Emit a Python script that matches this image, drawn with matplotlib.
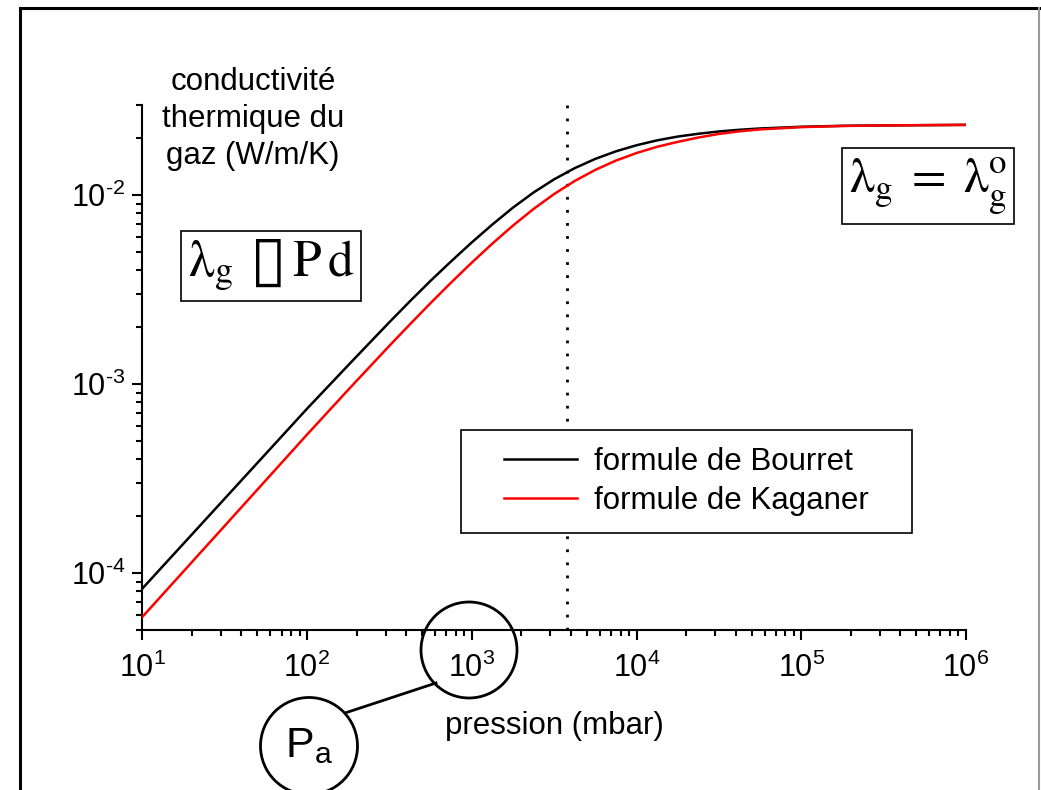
"""Conductivité thermique du gaz vs pression: formules de Bourret et Kaganer."""

import math

import matplotlib
matplotlib.use("Agg")
import matplotlib.pyplot as plt
from matplotlib.patches import Circle, Rectangle
from matplotlib.ticker import FuncFormatter, LogLocator, NullFormatter

plt.rcParams["font.family"] = ["Liberation Sans", "DejaVu Sans"]
plt.rcParams["mathtext.fontset"] = "custom"
plt.rcParams["mathtext.rm"] = "Liberation Sans"
plt.rcParams["mathtext.it"] = "Liberation Sans:italic"
plt.rcParams["mathtext.bf"] = "Liberation Sans:bold"

# pression (mbar)
pression = [10, 31.62, 100, 177.8, 316.2, 421.7, 562.3, 749.9, 1000, 1334,
            1778, 2371, 3162, 4217, 5623, 7499, 10000, 13340, 17780, 23710,
            31620, 42170, 56230, 1e5, 177800, 316200, 1e6]
# conductivité (W/m/K)
bourret = [8.279e-5, 2.477e-4, 7.413e-4, 1.259e-3, 2.128e-3, 2.748e-3,
           3.524e-3, 4.467e-3, 5.623e-3, 6.998e-3, 8.590e-3, 1.033e-2,
           1.213e-2, 1.390e-2, 1.556e-2, 1.706e-2, 1.837e-2, 1.950e-2,
           2.042e-2, 2.113e-2, 2.173e-2, 2.218e-2, 2.254e-2, 2.301e-2,
           2.328e-2, 2.339e-2, 2.355e-2]
kaganer = [5.861e-5, 1.778e-4, 5.408e-4, 9.333e-4, 1.596e-3, 2.075e-3,
           2.685e-3, 3.451e-3, 4.395e-3, 5.546e-3, 6.902e-3, 8.453e-3,
           1.014e-2, 1.189e-2, 1.361e-2, 1.524e-2, 1.671e-2, 1.803e-2,
           1.914e-2, 2.018e-2, 2.109e-2, 2.178e-2, 2.228e-2, 2.291e-2,
           2.323e-2, 2.339e-2, 2.355e-2]
p_limite = 3800


def fmt_pow10(v, pos):
    e = int(round(math.log10(v)))
    if e < 0:
        return r"$10^{\text{-}%d}$" % (-e)
    return r"$10^{%d}$" % e


W, H = 1041, 790
fig = plt.figure(figsize=(W / 100, H / 100), dpi=100)
ax = fig.add_axes([142.3 / W, 1 - 630 / H, (966 - 142.3) / W, 525 / H])

l1, = ax.plot(pression, bourret, color="black", lw=1.8, zorder=3)
l2, = ax.plot(pression, kaganer, color="#ff0000", lw=1.8, zorder=3)
ax.axvline(p_limite, color="black", lw=2, ls=(0, (1, 3.7)), zorder=2)

ax.set_xscale("log")
ax.set_yscale("log")
ax.set_xlim(10, 1e6)
ax.set_ylim(5e-5, 3e-2)
ax.xaxis.set_minor_locator(LogLocator(base=10, subs=range(2, 10)))
ax.yaxis.set_minor_locator(LogLocator(base=10, subs=range(2, 10)))
ax.xaxis.set_minor_formatter(NullFormatter())
ax.yaxis.set_minor_formatter(NullFormatter())
ax.set_yticks([1e-4, 1e-3, 1e-2])
ax.xaxis.set_major_formatter(FuncFormatter(fmt_pow10))
ax.yaxis.set_major_formatter(FuncFormatter(fmt_pow10))

for s in ["top", "right"]:
    ax.spines[s].set_visible(False)
for s in ["left", "bottom"]:
    ax.spines[s].set_linewidth(1.5)
ax.tick_params(which="major", direction="out", length=7, width=1.5, labelsize=22)
ax.tick_params(which="minor", direction="out", length=4, width=1.5)
ax.tick_params(axis="x", which="major", pad=9)
ax.tick_params(axis="y", which="major", pad=5)

ax.set_xlabel("pression (mbar)", fontsize=22.5, labelpad=20)

# overlay in pixel coords for annotations
ov = fig.add_axes([0, 0, 1, 1], zorder=10)
ov.set_xlim(0, W)
ov.set_ylim(H, 0)
ov.axis("off")

ov.text(253, 119, "conductivité\nthermique du\ngaz (W/m/K)", fontsize=22.5,
        ha="center", va="center", multialignment="center", linespacing=1.3)

# legend box
ax.add_patch(Rectangle((461, 430), 451, 103, transform=ov.transData,
                       facecolor="white", edgecolor="black", lw=1.2,
                       clip_on=False, zorder=4))
leg = ax.legend([l1, l2], ["formule de Bourret", "formule de Kaganer"],
                loc="center", bbox_to_anchor=((686.5 - 142.3) / 823.7, (630 - 481.5) / 525),
                frameon=False, fontsize=22.5, handlelength=2.35, handletextpad=0.55,
                labelspacing=0.28, borderpad=0)
leg.set_zorder(5)

box = dict(boxstyle="square,pad=0.14", facecolor="white", edgecolor="black", lw=1.2)
ov.text(271, 266, r"$\mathrm{\lambda_g\;\:▯\;P\,d}$", fontsize=37,
        math_fontfamily="stix", ha="center", va="center", bbox=box)
ov.text(928, 186, r"$\mathrm{\lambda_g\;=\;\lambda_g^o}$", fontsize=36,
        math_fontfamily="stix", ha="center", va="center", bbox=box)

# P_a annotation
ov.add_patch(Circle((469, 650), 48, fill=False, lw=2, color="black"))
ov.add_patch(Circle((309, 746), 48.5, fill=False, lw=2, color="black"))
ov.plot([345, 436], [713, 683], color="black", lw=2)
ov.text(309, 746, r"$\mathrm{P_a}$", fontsize=31, ha="center", va="center")

# figure border
ov.plot([20, 20, 1039], [H + 5, 8, 8], color="black", lw=2.2, solid_joinstyle="miter")
ov.plot([1039, 1039], [8, H + 5], color="#999999", lw=1.5)

fig.savefig("out.png", dpi=100)
